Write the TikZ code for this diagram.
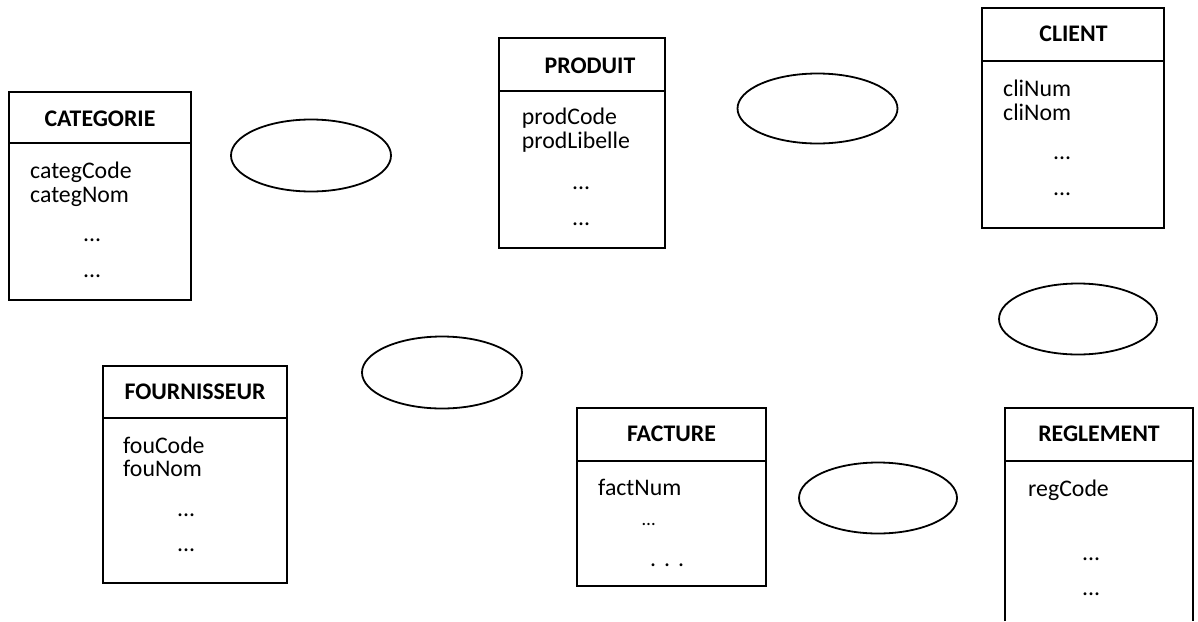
\documentclass[tikz,border=0pt]{standalone}
\usepackage{fontspec}
\setmainfont{Carlito}
\usetikzlibrary{shapes.geometric}
\begin{document}
\begin{tikzpicture}[x=1pt,y=-1pt,
  entbox/.style={draw=black, line width=1.8pt},
  sepline/.style={draw=black, line width=2.8pt},
  relship/.style={draw=black, ellipse, line width=1.8pt, inner sep=0pt},
  hdr/.style={font=\fontsize{23.8}{22}\selectfont\bfseries, anchor=base, inner sep=0pt, text height=16pt, text depth=3pt},
  attr/.style={font=\fontsize{23.8}{22}\selectfont, anchor=base west, inner sep=0pt, text height=16pt, text depth=4pt},
  dots/.style={font=\fontsize{23.8}{22}\selectfont, anchor=base west, inner sep=0pt, text height=4pt, text depth=0pt}]
\useasboundingbox (0,0) rectangle (1198,621);
\fill[white] (0,0) rectangle (1198,621);

% CATEGORIE
\draw[entbox] (9,92) rectangle (191,300);
\draw[sepline] (9,143) -- (191,143);
\node[hdr] (catH) at (100,126.7) {CATEGORIE};
\node[attr] (catA1) at (30,178.5) {categCode};
\node[attr] (catA2) at (30,202) {categNom};
\node[dots] (catD1) at (83,241.7) {...};
\node[dots] (catD2) at (83,277) {...};

% PRODUIT
\draw[entbox] (499,38) rectangle (665,248);
\draw[sepline] (499,91) -- (665,91);
\node[hdr] (prodH) at (590,73.3) {PRODUIT};
\node[attr] (prodA1) at (521.7,124.5) {prodCode};
\node[attr] (prodA2) at (521.7,148) {prodLibelle};
\node[dots] (prodD1) at (572,189) {...};
\node[dots] (prodD2) at (572,225) {...};

% CLIENT
\draw[entbox] (982,8) rectangle (1164,228);
\draw[sepline] (982,61) -- (1164,61);
\node[hdr] (cliH) at (1073.5,41.7) {CLIENT};
\node[attr] (cliA1) at (1003,96.5) {cliNum};
\node[attr] (cliA2) at (1003,120) {cliNom};
\node[dots] (cliD1) at (1053,159) {...};
\node[dots] (cliD2) at (1053,195) {...};

% FOURNISSEUR
\draw[entbox] (103,366) rectangle (287,583);
\draw[sepline] (103,418) -- (287,418);
\node[hdr] (fouH) at (195,399.3) {FOURNISSEUR};
\node[attr] (fouA1) at (123,453) {fouCode};
\node[attr] (fouA2) at (123,476.5) {fouNom};
\node[dots] (fouD1) at (177,516.7) {...};
\node[dots] (fouD2) at (177,551.7) {...};

% FACTURE
\draw[entbox] (577,408) rectangle (766,586);
\draw[sepline] (577,461) -- (766,461);
\node[hdr] (facH) at (671.5,441.7) {FACTURE};
\node[attr] (facA1) at (598,495) {factNum};
\node[font=\fontsize{19}{21}\selectfont, anchor=base west, inner sep=0pt, text height=4pt, text depth=0pt] (facD1) at (642,525) {…};
\node[dots] (facD2) at (650,566.7) {.\,\,.\,\,.};

% REGLEMENT (open at bottom)
\draw[entbox] (1005,621) -- (1005,408) -- (1193,408) -- (1193,621);
\draw[sepline] (1005,461) -- (1193,461);
\node[hdr] (regH) at (1099,441.7) {REGLEMENT};
\node[attr] (regA1) at (1028,496.7) {regCode};
\node[dots] (regD1) at (1082,560) {...};
\node[dots] (regD2) at (1082,595) {...};

% Associations (empty ellipses)
\node[relship, minimum width=160pt, minimum height=72pt] (r1) at (311,155.5) {};
\node[relship, minimum width=160pt, minimum height=70pt] (r2) at (817.5,108.5) {};
\node[relship, minimum width=160pt, minimum height=72pt] (r3) at (442,372.5) {};
\node[relship, minimum width=158pt, minimum height=71pt] (r4) at (1078,319) {};
\node[relship, minimum width=158pt, minimum height=71pt] (r5) at (878,498) {};
\end{tikzpicture}
\end{document}
